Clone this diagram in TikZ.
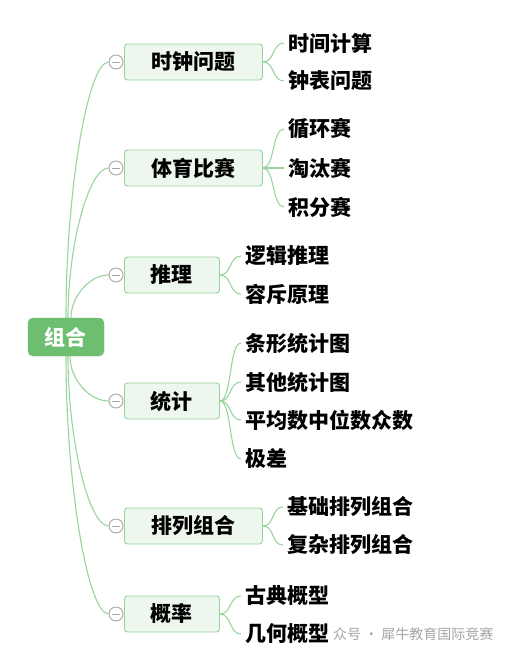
\documentclass[tikz,border=0pt]{standalone}
\usepackage{fontspec}
\setmainfont{Noto Sans CJK SC}
\definecolor{lnk}{HTML}{9AD49E}
\definecolor{boxfill}{HTML}{EEF7EE}
\definecolor{boxline}{HTML}{95D39A}
\definecolor{rootfill}{HTML}{6DBE70}
\definecolor{togc}{HTML}{A8A8A8}
\tikzset{
  rootbox/.style={draw=rootfill, fill=rootfill, rounded corners=5pt, minimum width=76pt, minimum height=38pt, inner sep=0pt, text=white, font=\fontsize{21}{24}\selectfont\bfseries},
  topic/.style={draw=boxline, line width=0.9pt, fill=boxfill, rounded corners=3pt, minimum height=36pt, inner sep=0pt, anchor=west, font=\fontsize{21}{24}\selectfont\bfseries},
  leaf/.style={anchor=west, inner xsep=4pt, inner ysep=1pt, font=\fontsize{21}{24}\selectfont\bfseries},
  tog/.style={circle, draw=togc, line width=0.9pt, fill=white, minimum size=14pt, inner sep=0pt,
    path picture={\draw[togc, line width=0.9pt] ([xshift=-4pt]path picture bounding box.center) -- ([xshift=4pt]path picture bounding box.center);}},
  conn/.style={draw=lnk, line width=1.1pt},
  wm/.style={text=gray!70, font=\fontsize{14}{16}\selectfont, anchor=west, inner sep=0pt}
}
\begin{document}
\begin{tikzpicture}[x=1pt, y=-1pt]
\useasboundingbox[fill=white] (0,0) rectangle (505,654);

% root
\node[rootbox] (r) at (66,337) {组合};

% level-1 topics
\node[topic, minimum width=138pt] (t1) at (124,62) {时钟问题};
\node[topic, minimum width=138pt] (t2) at (124,168) {体育比赛};
\node[topic, minimum width=95pt] (t3) at (124,275) {推理};
\node[topic, minimum width=95pt] (t4) at (124,401) {统计};
\node[topic, minimum width=138pt] (t5) at (124,526) {排列组合};
\node[topic, minimum width=95pt] (t6) at (124,614) {概率};

% toggles
\node[tog] (c1) at (116,62) {};
\node[tog] (c2) at (116,168) {};
\node[tog] (c3) at (116,275) {};
\node[tog] (c4) at (116,401) {};
\node[tog] (c5) at (116,526) {};
\node[tog] (c6) at (116,614) {};

% leaves
\node[leaf] (l11) at (284,43) {时间计算};
\node[leaf] (l12) at (284,81) {钟表问题};
\node[leaf] (l21) at (284,129) {循环赛};
\node[leaf] (l22) at (284,168) {淘汰赛};
\node[leaf] (l23) at (284,207) {积分赛};
\node[leaf] (l31) at (241,256) {逻辑推理};
\node[leaf] (l32) at (241,294) {容斥原理};
\node[leaf] (l41) at (241,343) {条形统计图};
\node[leaf] (l42) at (241,382) {其他统计图};
\node[leaf] (l43) at (241,420) {平均数中位数众数};
\node[leaf] (l44) at (241,459) {极差};
\node[leaf] (l51) at (283,507) {基础排列组合};
\node[leaf] (l52) at (283,545) {复杂排列组合};
\node[leaf] (l61) at (241,596) {古典概型};
\node[leaf] (l62) at (241,634) {几何概型};

% watermark
\node[wm] (wmk) at (333,634) {众号 · 犀牛教育国际竞赛};

% root to topics
\begin{scope}[on background layer/.style={}]
\draw[conn] (r.north) .. controls (66,190) and (88,62) .. (c1.west);
\draw[conn] ([xshift=2pt]r.north) .. controls (68,244) and (89,168) .. (c2.west);
\draw[conn] ([xshift=5pt]r.north) .. controls (71,296) and (90,275) .. (c3.west);
\draw[conn] ([xshift=4pt]r.south) .. controls (70,380) and (90,401) .. (c4.west);
\draw[conn] ([xshift=2pt]r.south) .. controls (68,441) and (89,526) .. (c5.west);
\draw[conn] (r.south) .. controls (66,485) and (88,614) .. (c6.west);
\end{scope}

% topics to leaves
\foreach \t/\l in {t1/l11,t1/l12,t2/l21,t2/l22,t2/l23,t3/l31,t3/l32,t4/l41,t4/l42,t4/l43,t4/l44,t5/l51,t5/l52,t6/l61,t6/l62}{
  \draw[conn] (\t.east) .. controls ([xshift=12pt]\t.east) and ([xshift=-12pt]\l.west |- \l.west) .. (\l.west);
}
\end{tikzpicture}
\end{document}
